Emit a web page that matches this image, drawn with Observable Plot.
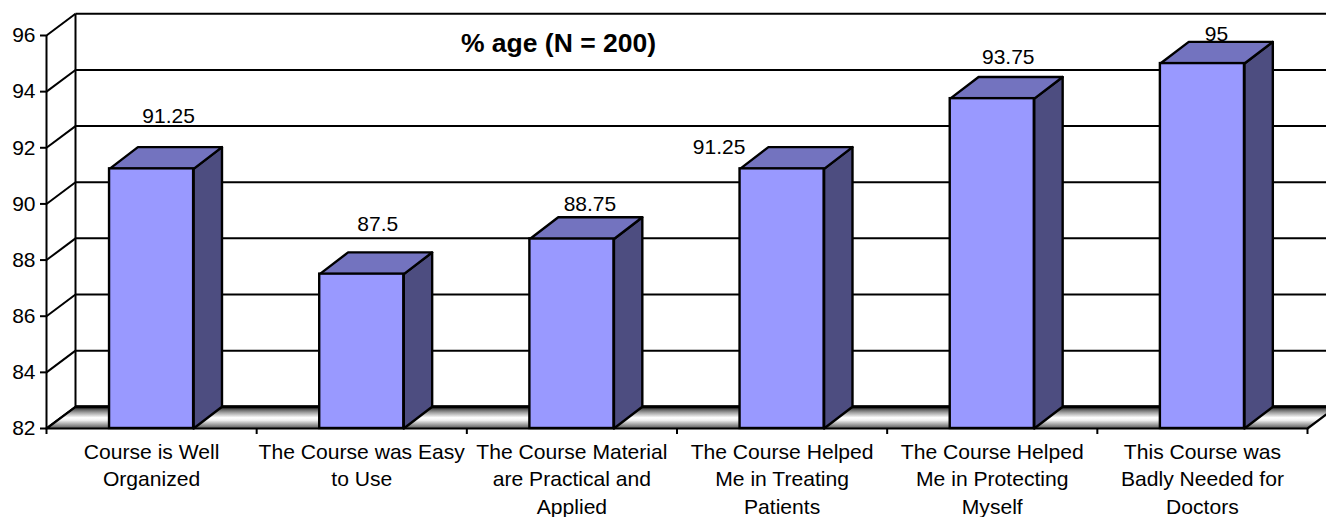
<!DOCTYPE html>
<html><head><meta charset="utf-8">
<script src="https://cdn.jsdelivr.net/npm/d3@7"></script>
<script src="https://cdn.jsdelivr.net/npm/@observablehq/plot@0.6"></script>
<style>html,body{margin:0;padding:0;background:#fff}svg{display:block}</style>
</head><body><div id="chart"></div>
<script>
const categories = [
  "Course is Well\nOrganized",
  "The Course was Easy\nto Use",
  "The Course Material\nare Practical and\nApplied",
  "The Course Helped\nMe in Treating\nPatients",
  "The Course Helped\nMe in Protecting\nMyself",
  "This Course was\nBadly Needed for\nDoctors"
];
const values = [91.25, 87.5, 88.75, 91.25, 93.75, 95];
const valueLabels = ["91.25", "87.5", "88.75", "91.25", "93.75", "95"];
const yTicks = [82, 84, 86, 88, 90, 92, 94, 96];
const title = "% age (N = 200)";

const font = "Arial, 'Liberation Sans', sans-serif";
const yBase = 82, n = categories.length;
const depthX = 0.138, depthY = 0.773;   // chart depth, in scale units
const barDepthX = 0.135, halfBar = 0.2;
const rows = values.map((v, i) => ({i, v, label: valueLabels[i], x1: i + 0.5 - halfBar, x2: i + 0.5 + halfBar}));

// hand-placed data labels, as in the source (pixel nudges from the bar's top centre)
const nudgeX = [17, 16, 18, -63, 16, 14];
const nudgeY = [-46, -43, -28, -15, -35, -23];

const poly = (pts, options) => Plot.line(pts, {x: "x", y: "y", ...options});
const topFace = r => [{x: r.x1, y: r.v}, {x: r.x2, y: r.v}, {x: r.x2 + barDepthX, y: r.v + depthY}, {x: r.x1 + barDepthX, y: r.v + depthY}, {x: r.x1, y: r.v}];
const sideFace = r => [{x: r.x2, y: yBase}, {x: r.x2, y: r.v}, {x: r.x2 + barDepthX, y: r.v + depthY}, {x: r.x2 + barDepthX, y: yBase + depthY}, {x: r.x2, y: yBase}];
const floor = [{x: 0, y: yBase}, {x: n, y: yBase}, {x: n + depthX, y: yBase + depthY}, {x: depthX, y: yBase + depthY}, {x: 0, y: yBase}];
const ink = "#000", sw = 2, barSw = 2.4;

const defs = () => {
  const ns = "http://www.w3.org/2000/svg";
  const d = document.createElementNS(ns, "defs");
  d.innerHTML = `<linearGradient id="floorShade" x1="0" y1="0" x2="0" y2="1">
    <stop offset="0" stop-color="#222"/><stop offset="0.25" stop-color="#999"/><stop offset="0.5" stop-color="#fff"/>
    <stop offset="0.62" stop-color="#f0f0f0"/><stop offset="1" stop-color="#555"/></linearGradient>`;
  return d;
};

const chart = Plot.plot({
  width: 1326, height: 517,
  marginLeft: 46, marginRight: 19, marginTop: 35, marginBottom: 89,
  style: {background: "#fff", fontFamily: font, color: "#000", overflow: "hidden"},
  x: {type: "linear", domain: [0, n], axis: null},
  y: {domain: [82, 96], axis: null},
  marks: [
    defs,
    // back wall and gridlines
    Plot.link(yTicks, {x1: depthX, x2: n + depthX, y1: d => d + depthY, y2: d => d + depthY, stroke: ink, strokeWidth: sw}),
    Plot.link(yTicks, {x1: 0, x2: depthX, y1: d => d, y2: d => d + depthY, stroke: ink, strokeWidth: sw}),
    Plot.link([0], {x1: depthX, x2: depthX, y1: yBase + depthY, y2: 96 + depthY, stroke: ink, strokeWidth: sw}),
    // floor
    poly(floor, {fill: "url(#floorShade)", stroke: ink, strokeWidth: 2.2}),
    Plot.link([0], {x1: depthX, x2: n + depthX, y1: yBase + depthY, y2: yBase + depthY, stroke: ink, strokeWidth: 3}),
    // front axis line
    Plot.ruleX([0], {y1: 82, y2: 96, stroke: ink, strokeWidth: sw}),
    Plot.axisY({ticks: yTicks, tickSize: 6, tickPadding: 5, fontSize: 21, strokeWidth: sw, marginLeft: 46}),
    Plot.axisX({ticks: d3.range(0, n + 1), tickSize: 6, fill: "none", strokeWidth: sw}),
    Plot.axisX({ticks: d3.range(n).map(i => i + 0.5), tickSize: 0, tickPadding: 11, fontSize: 21.1, lineHeight: 1.3, lineAnchor: "top",
      tickFormat: d => categories[d - 0.5]}),
    // bars
    ...rows.flatMap(r => [
      poly(sideFace(r), {fill: "#4d4d80", stroke: ink, strokeWidth: barSw}),
      poly(topFace(r), {fill: "#7373bf", stroke: ink, strokeWidth: barSw})
    ]),
    Plot.rectY(rows, {x1: "x1", x2: "x2", y1: yBase, y2: "v", fill: "#9999ff", stroke: ink, strokeWidth: barSw}),
    // value labels
    Plot.text(rows, {x: d => d.i + 0.5, y: "v", text: "label", fontSize: 21, fill: ink, lineAnchor: "bottom",
      render(index, scales, values, dims, ctx, next) {
        const g = next(index, scales, values, dims, ctx);
        d3.select(g).selectAll("text").attr("transform", function(_, k) {
          const i = index[k];
          return `translate(${values.x[i] + nudgeX[i]},${values.y[i] + nudgeY[i]})`;
        });
        return g;
      }}),
    Plot.text([title], {x: 2.436, y: 95.73, text: d => d, fontSize: 26.5, fontWeight: "bold", fill: ink})
  ]
});
document.getElementById("chart").append(chart);
</script></body></html>
